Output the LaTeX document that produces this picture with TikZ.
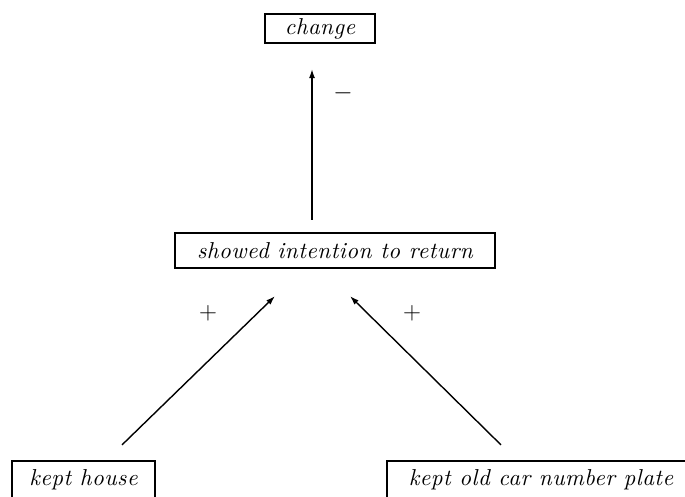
\documentclass[tikz,border=0pt]{standalone}
\usepackage{fontspec}
\usetikzlibrary{arrows.meta}
\newfontfamily\boxfam{lmroman10-italic.otf}[LetterSpace=2]
\newcommand\boxfont{\fontsize{23}{26}\selectfont\boxfam}
\newcommand\signfont{\fontsize{23}{26}\selectfont}
\begin{document}
\begin{tikzpicture}[x=1pt,y=-1pt,
  box/.style={draw, line width=2.2pt, inner sep=0pt, font=\boxfont},
  arr/.style={line width=1.4pt, -{Latex[length=9pt,width=6pt]}},
  sign/.style={font=\signfont, inner sep=0pt}]
\useasboundingbox (0,0) rectangle (685,497);
\clip (0,0) rectangle (685,497);
\node[box, minimum width=110pt, minimum height=29pt] (change) at (320,28.5) {change};
\node[box, minimum width=320pt, minimum height=35pt] (showed) at (335,250.5) {showed intention to return};
\node[box, minimum width=143pt, minimum height=38pt] (house) at (83.5,480) {kept house};
\node[box, minimum width=308pt, minimum height=38pt] (plate) at (541,480) {kept old car number plate};
\draw[arr] ([xshift=-23pt,yshift=12pt]showed.north) -- ([xshift=-8pt,yshift=-25pt]change.south);
\draw[arr] ([xshift=38.5pt,yshift=15pt]house.north) -- ([xshift=-60pt,yshift=-27pt]showed.south);
\draw[arr] ([xshift=-40pt,yshift=15pt]plate.north) -- ([xshift=15pt,yshift=-27pt]showed.south);
\node[sign] (minus) at (343,93) {$-$};
\node[sign] (plusL) at (208,313) {$+$};
\node[sign] (plusR) at (412,313) {$+$};
\end{tikzpicture}
\end{document}
